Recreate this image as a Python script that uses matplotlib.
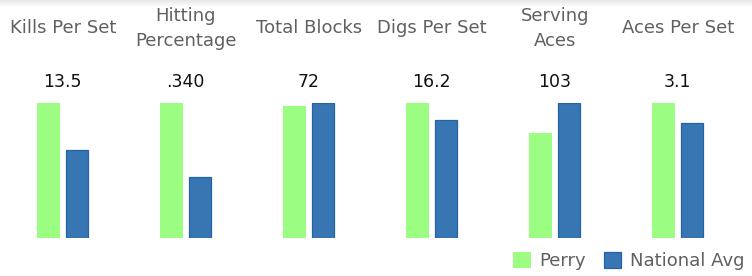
import matplotlib
matplotlib.use("Agg")
import matplotlib.pyplot as plt
from matplotlib.patches import Patch
import numpy as np

# Season stats: Perry vs. national average
titles = ["Kills Per Set", "Hitting\nPercentage", "Total Blocks",
          "Digs Per Set", "Serving\nAces", "Aces Per Set"]
value_labels = ["13.5", ".340", "72", "16.2", "103", "3.1"]
perry = [13.5, 0.340, 72, 16.2, 103, 3.1]
national = [8.8, 0.152, 73.5, 14.2, 133, 2.64]
series_names = ["Perry", "National Avg"]

GREEN = "#9bfd82"
BLUE = "#3776b3"
BLUE_EDGE = "#2463a5"
TITLE_GRAY = "#606060"

W, H = 752, 276
fig = plt.figure(figsize=(W / 100, H / 100), dpi=100)
fig.patch.set_facecolor("white")

# faint shadow along the top edge
shade = fig.add_axes([0, 1 - 7 / H, 1, 7 / H])
grad = np.linspace(0.90, 1.0, 50).reshape(-1, 1)
shade.imshow(np.repeat(grad, 2, axis=1), cmap="gray", vmin=0, vmax=1,
             aspect="auto", extent=[0, 1, 0, 1], origin="upper")
shade.axis("off")

panel_w = 123
bar_step = 28.5      # px between bar centres
first_center = 48.5  # px from panel start to first bar centre
bar_w = 23 / bar_step
base_y = H - 237.7
top_y = H - 103

for i in range(len(titles)):
    x0 = panel_w * i
    ax = fig.add_axes([x0 / W, base_y / H, panel_w / W, (top_y - base_y) / H])
    ax.bar([0], [perry[i]], width=bar_w, color=GREEN, linewidth=0)
    ax.bar([1], [national[i]], width=bar_w * 0.96, color=BLUE,
           edgecolor=BLUE_EDGE, linewidth=0.9)
    ax.set_xlim(-first_center / bar_step, (panel_w - first_center) / bar_step)
    ax.set_ylim(0, max(perry[i], national[i]))
    ax.axis("off")

    cx = (x0 + first_center + bar_step / 2) / W
    # baseline of the last title line
    fig.text(cx, (H - (46.3 if "\n" in titles[i] else 32.7)) / H, titles[i],
             ha="center", va="baseline", fontsize=13, color=TITLE_GRAY,
             linespacing=1.5, family="DejaVu Sans")
    fig.text(cx, (H - 86.7) / H, value_labels[i], ha="center", va="baseline",
             fontsize=12.5, color="#111111", family="DejaVu Sans")

handles = [Patch(facecolor=GREEN, edgecolor="none"),
           Patch(facecolor=BLUE, edgecolor=BLUE_EDGE, linewidth=0.9)]
leg = fig.legend(handles, series_names, loc="center right",
                 bbox_to_anchor=(745 / W, 15 / H), ncol=2, frameon=False,
                 fontsize=13, handlelength=0.95, handleheight=0.95,
                 handletextpad=0.5, columnspacing=1.0, borderpad=0,
                 borderaxespad=0)
for t in leg.get_texts():
    t.set_color(TITLE_GRAY)

fig.savefig("out.png", dpi=100, facecolor="white")
